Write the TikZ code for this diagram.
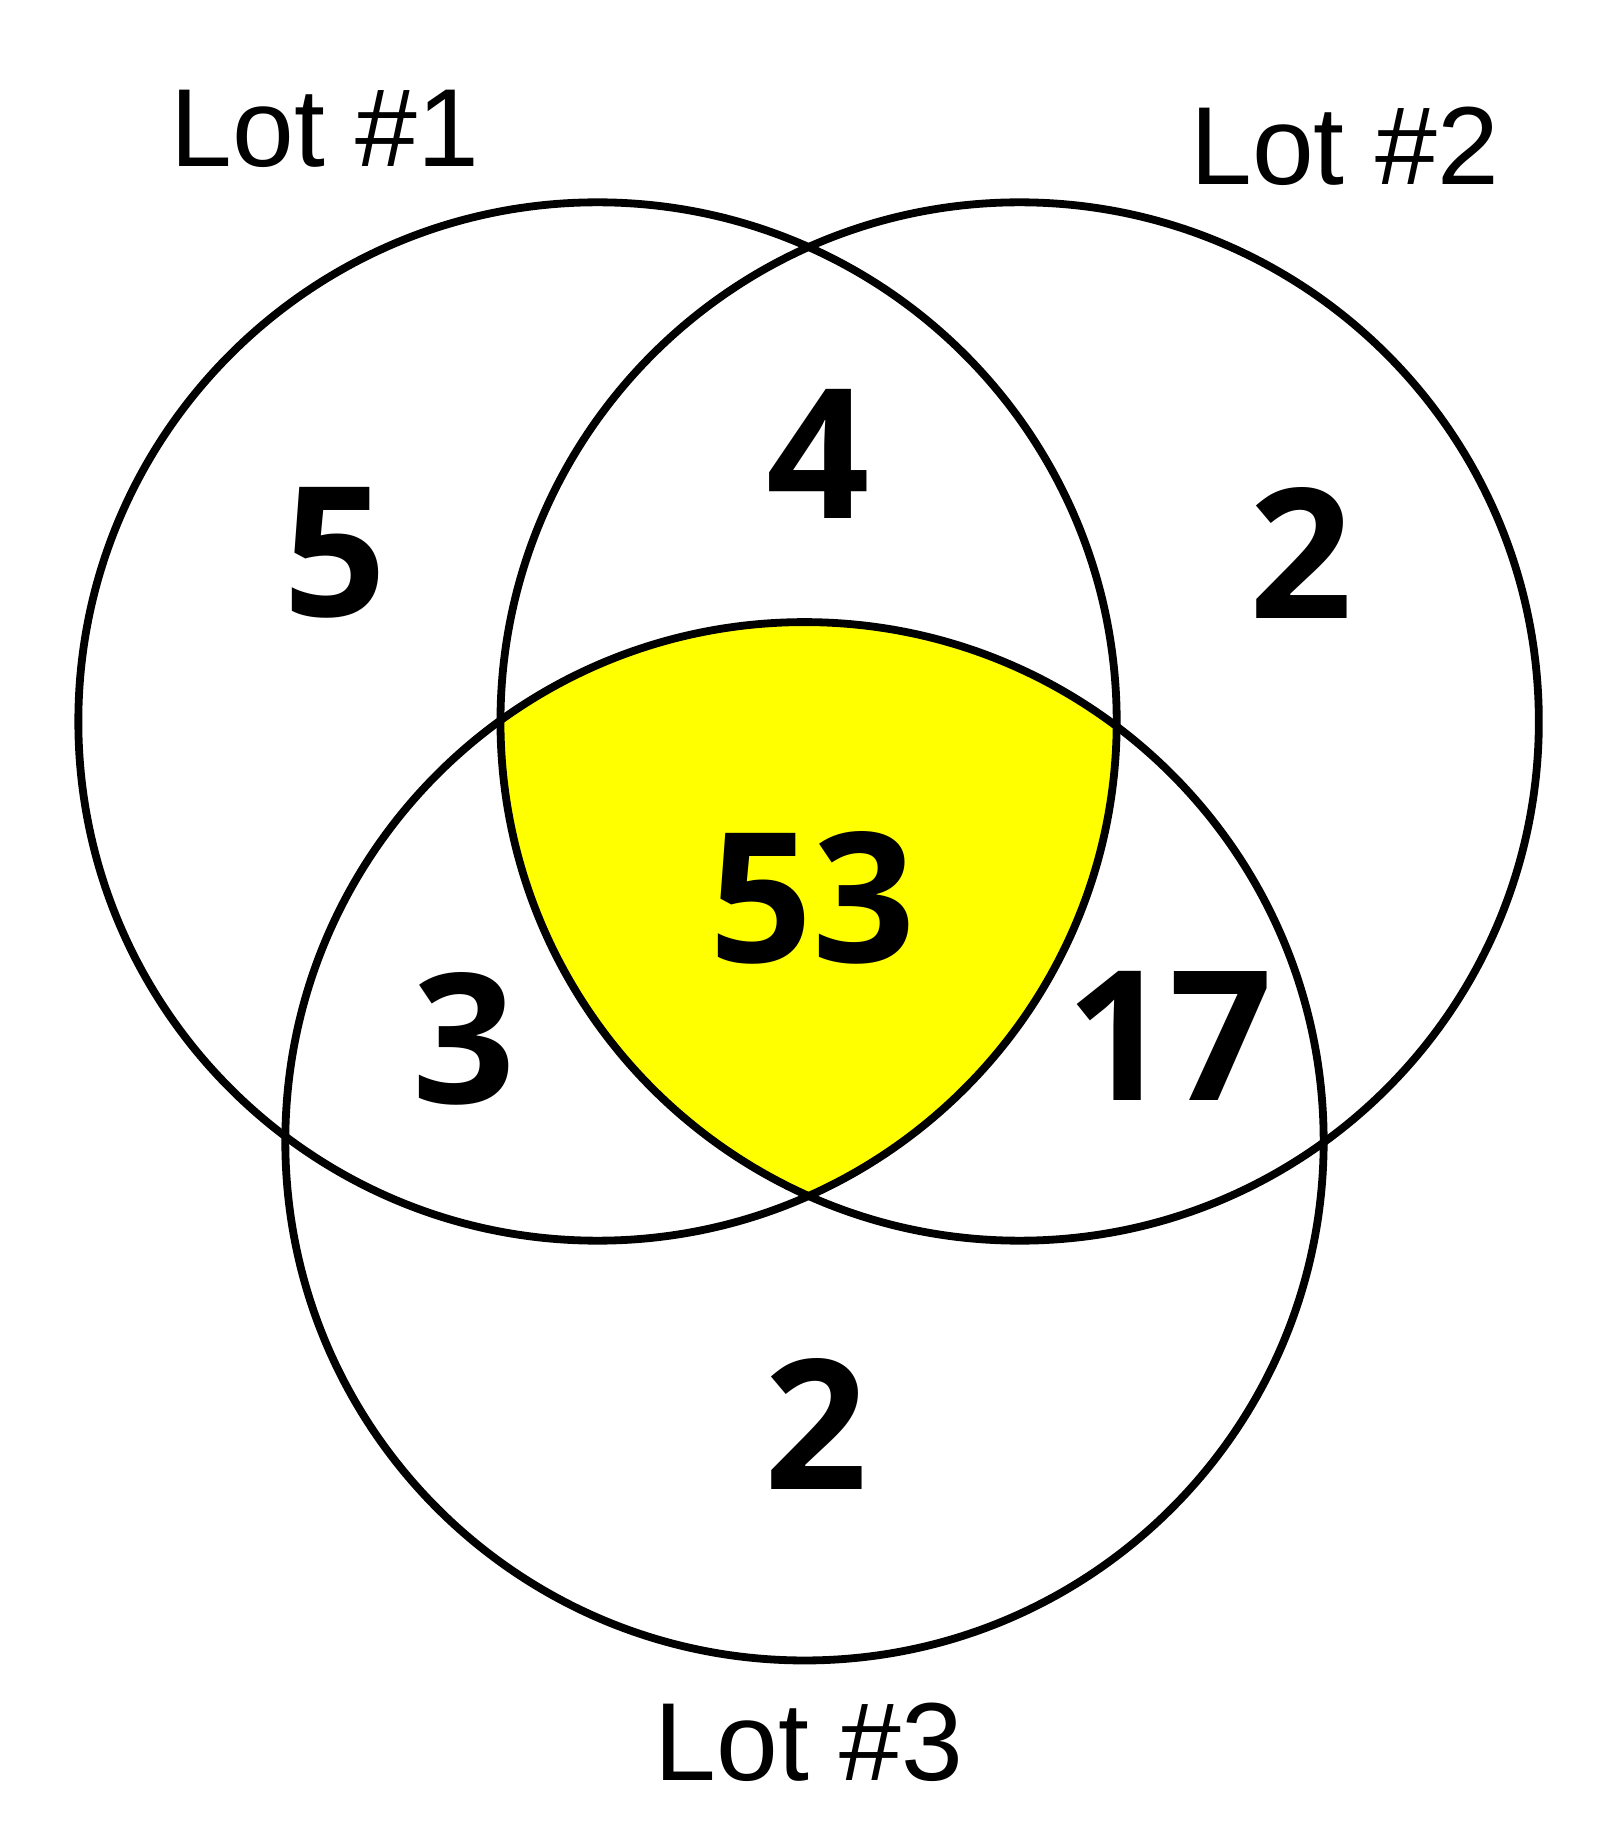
\documentclass[tikz,border=0pt]{standalone}
\usepackage{fontspec}
\setmainfont{Liberation Sans}
\newfontfamily\numfont{Open Sans}
\definecolor{vyellow}{RGB}{255,255,0}
\begin{document}
\begin{tikzpicture}[x=0.01cm,y=-0.01cm,
  circ/.style={draw=black,line width=1.9pt},
  lotlabel/.style={font=\fontsize{27}{32}\selectfont},
  count/.style={font=\numfont\bfseries\fontsize{44}{50}\selectfont}]
\useasboundingbox (0,0) rectangle (1379,1565);
\begin{scope}
  \clip (511,617) circle[radius=444];
  \clip (872,617) circle[radius=444];
  \fill[vyellow] (688,976) circle[radius=444];
\end{scope}
\draw[circ] (511,617) circle[radius=444];
\draw[circ] (872,617) circle[radius=444];
\draw[circ] (688,976) circle[radius=444];
\node[lotlabel] (l1) at (278,110) {Lot \#1};
\node[lotlabel] (l2) at (1150,125) {Lot \#2};
\node[lotlabel] (l3) at (692,1490) {Lot \#3};
\node[count] (a) at (287,473) {5};
\node[count] (b) at (700,388) {4};
\node[count] (c) at (1113,473) {2};
\node[count] (d) at (695,768) {53};
\node[count] (e) at (397,888) {3};
\node[count] (f) at (1000,886) {17};
\node[count] (g) at (698,1218) {2};
\end{tikzpicture}
\end{document}
